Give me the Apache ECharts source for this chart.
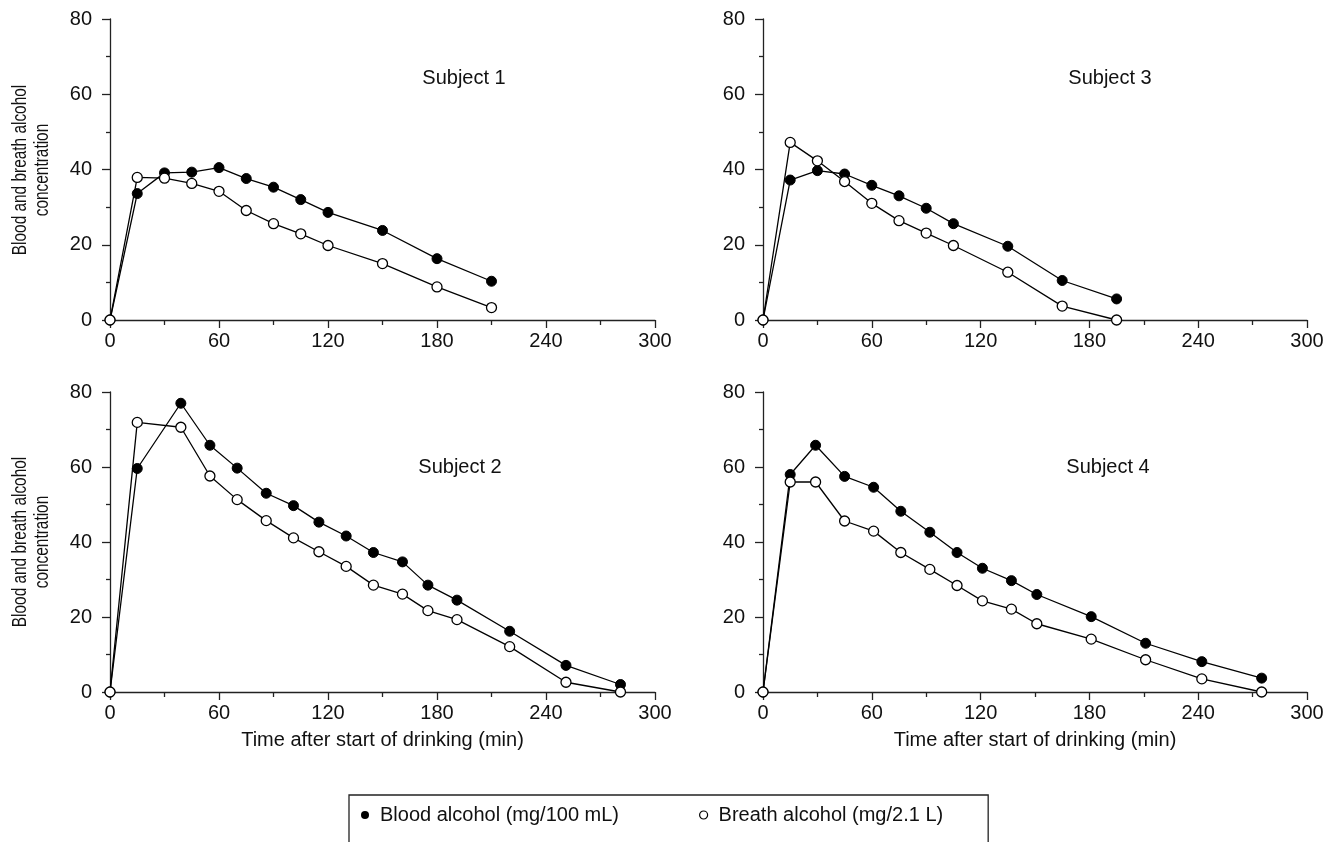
<!DOCTYPE html>
<html>
<head>
<meta charset="utf-8">
<title>Blood and breath alcohol</title>
<script src="https://cdn.jsdelivr.net/npm/echarts@6/dist/echarts.min.js"></script>
<style>
  html, body { margin: 0; padding: 0; background: #fff; }
  #chart { width: 1339px; height: 842px; }
</style>
</head>
<body>
<div id="chart"></div>
<script>
// time (min) and concentrations
var s1Time   = [0, 15, 30, 45, 60, 75, 90, 105, 120, 150, 180, 210];
var s1Blood  = [0, 33.6, 39.1, 39.3, 40.5, 37.6, 35.3, 32.0, 28.6, 23.8, 16.3, 10.3];
var s1Breath = [0, 37.9, 37.7, 36.3, 34.2, 29.1, 25.6, 22.9, 19.8, 15.0, 8.8, 3.3];

var s3Time   = [0, 15, 30, 45, 60, 75, 90, 105, 135, 165, 195];
var s3Blood  = [0, 37.2, 39.7, 38.8, 35.8, 33.0, 29.7, 25.6, 19.6, 10.5, 5.6];
var s3Breath = [0, 47.2, 42.3, 36.8, 31.0, 26.4, 23.1, 19.8, 12.7, 3.7, 0];

var s2Time   = [0, 15, 39, 55, 70, 86, 101, 115, 130, 145, 161, 175, 191, 220, 251, 281];
var s2Blood  = [0, 59.6, 77.0, 65.8, 59.7, 53.0, 49.7, 45.3, 41.6, 37.2, 34.7, 28.5, 24.5, 16.2, 7.1, 2.0];
var s2Breath = [0, 71.9, 70.6, 57.6, 51.3, 45.7, 41.1, 37.4, 33.5, 28.5, 26.1, 21.7, 19.3, 12.1, 2.6, 0];

var s4Time   = [0, 15, 29, 45, 61, 76, 92, 107, 121, 137, 151, 181, 211, 242, 275];
var s4Blood  = [0, 58.0, 65.8, 57.5, 54.6, 48.2, 42.6, 37.2, 33.0, 29.7, 26.0, 20.1, 13.0, 8.1, 3.7];
var s4Breath = [0, 56.0, 56.0, 45.6, 42.9, 37.2, 32.7, 28.4, 24.3, 22.1, 18.2, 14.1, 8.6, 3.5, 0];

var xTicks = [0, 60, 120, 180, 240, 300];
var yTicks = [0, 20, 40, 60, 80];

var bloodName = 'Blood alcohol (mg/100 mL)';
var breathName = 'Breath alcohol (mg/2.1 L)';
var subjects = ['Subject 1', 'Subject 3', 'Subject 2', 'Subject 4'];
var yTitle = 'Blood and breath alcohol\nconcentration';

var font = "'Liberation Sans', Arial, sans-serif";
var ink = '#111';

function pairs(t, v) {
  return t.map(function (x, i) { return [x, v[i]]; });
}

var grids = [
  { left: 110, top: 19, width: 545, height: 301 },
  { left: 763, top: 19, width: 544, height: 301 },
  { left: 110, top: 392, width: 545, height: 300 },
  { left: 763, top: 392, width: 544, height: 300 }
];

var panelData = [
  [s1Time, s1Blood, s1Breath],
  [s3Time, s3Blood, s3Breath],
  [s2Time, s2Blood, s2Breath],
  [s4Time, s4Blood, s4Breath]
];

var xAxes = [], yAxes = [], series = [];
grids.forEach(function (g, i) {
  var bottom = i >= 2;
  xAxes.push({
    gridIndex: i, type: 'value',
    min: xTicks[0], max: xTicks[xTicks.length - 1], interval: 60,
    name: bottom ? 'Time after start of drinking (min)' : '',
    nameLocation: 'middle', nameGap: 38,
    nameTextStyle: { fontFamily: font, fontSize: 20, color: ink },
    axisLine: { lineStyle: { color: '#222', width: 1.3 } },
    axisTick: { length: 8, lineStyle: { color: '#222', width: 1.3 } },
    minorTick: { show: true, splitNumber: 2, length: 5, lineStyle: { color: '#222', width: 1.3 } },
    axisLabel: { margin: 11, fontFamily: font, fontSize: 20, color: ink },
    splitLine: { show: false }
  });
  yAxes.push({
    gridIndex: i, type: 'value',
    min: yTicks[0], max: yTicks[yTicks.length - 1], interval: 20,
    axisLine: { show: true, lineStyle: { color: '#222', width: 1.3 } },
    axisTick: { show: true, length: 8, lineStyle: { color: '#222', width: 1.3 } },
    minorTick: { show: true, splitNumber: 2, length: 4, lineStyle: { color: '#222', width: 1.3 } },
    axisLabel: { margin: 18, fontFamily: font, fontSize: 20, color: ink },
    splitLine: { show: false }
  });
  var d = panelData[i];
  series.push({
    name: bloodName, type: 'line', xAxisIndex: i, yAxisIndex: i,
    data: pairs(d[0], d[1]), symbol: 'circle', symbolSize: 10, clip: false,
    lineStyle: { color: '#000', width: 1.3 },
    itemStyle: { color: '#000', borderColor: '#000', borderWidth: 1 },
    emphasis: { disabled: true }, z: 3
  });
  series.push({
    name: breathName, type: 'line', xAxisIndex: i, yAxisIndex: i,
    data: pairs(d[0], d[2]), symbol: 'circle', symbolSize: 10, clip: false,
    lineStyle: { color: '#000', width: 1.3 },
    itemStyle: { color: '#fff', borderColor: '#000', borderWidth: 1.3 },
    emphasis: { disabled: true }, z: 4
  });
});

var labelPos = [[464, 78], [1110, 78], [460, 467], [1108, 467]];
var graphics = subjects.map(function (s, i) {
  return {
    type: 'text', x: labelPos[i][0], y: labelPos[i][1],
    style: { text: s, fontFamily: font, fontSize: 20, fill: ink, align: 'center', verticalAlign: 'middle' }
  };
});
// condensed, rotated y titles for the left panels
[170, 542].forEach(function (cy) {
  graphics.push({
    type: 'text', x: 31, y: cy, rotation: Math.PI / 2, scaleX: 0.77,
    style: { text: yTitle, fontFamily: font, fontSize: 20, lineHeight: 22, fill: ink, align: 'center', verticalAlign: 'middle' }
  });
});

var chart = echarts.init(document.getElementById('chart'));
chart.setOption({
  animation: false,
  backgroundColor: '#fff',
  grid: grids,
  xAxis: xAxes,
  yAxis: yAxes,
  series: series,
  graphic: graphics,
  legend: {
    left: 349, top: 795,
    padding: [10, 45, 40, 12],
    itemWidth: 20, itemHeight: 8, itemGap: 80,
    borderColor: '#222', borderWidth: 1.3,
    selectedMode: false,
    textStyle: { fontFamily: font, fontSize: 20, color: ink },
    data: [
      { name: bloodName, icon: 'circle', itemStyle: { color: '#000', borderWidth: 0 } },
      { name: breathName, icon: 'circle', itemStyle: { color: '#fff', borderColor: '#000', borderWidth: 1.2 } }
    ]
  }
});
</script>
</body>
</html>
